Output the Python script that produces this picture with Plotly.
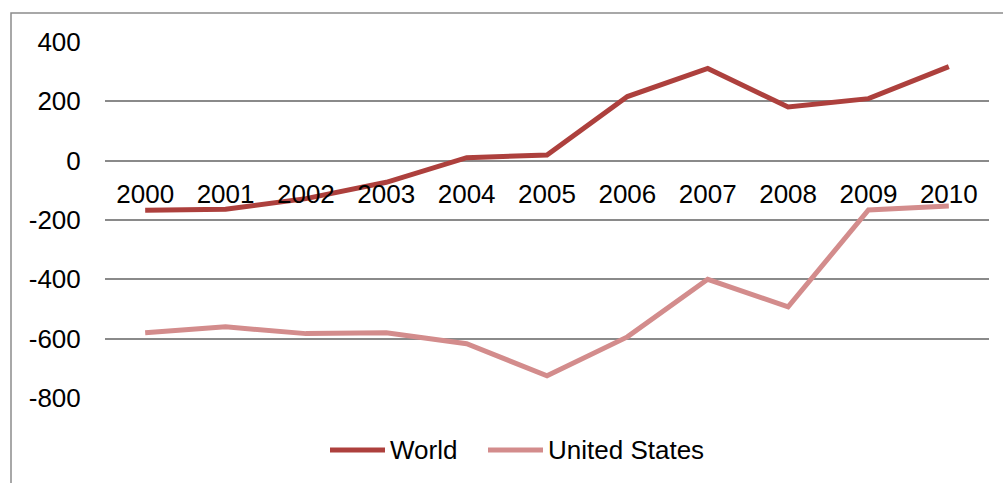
import plotly.graph_objects as go

years = [str(y) for y in range(2000, 2011)]
world = [-167, -164, -128, -73, 10, 19, 216, 311, 181, 209, 317]
united_states = [-580, -560, -583, -580, -617, -725, -594, -400, -493, -166, -153]
y_ticks = [400, 200, 0, -200, -400, -600, -800]
y_tick_labels = ["400", "200", "0", "-200", "-400", "-600", "-800"]

WORLD_COLOR = "#AD403D"
US_COLOR = "#D38C8C"
FONT = "Liberation Sans, Arial, sans-serif"
FONT_SIZE = 26

# plot-area geometry in pixels
W, H = 1003, 483
L, R, T, B = 105, 14, 42, 85
pw, ph = W - L - R, H - T - B


def px_x(x):
    return (x - L) / pw


def px_y(y):
    return (H - B - y) / ph


series = [("World", world, WORLD_COLOR), ("United States", united_states, US_COLOR)]

fig = go.Figure()
for name, values, color in series:
    fig.add_trace(go.Scatter(x=years, y=values, name=name, mode="lines",
                             line=dict(color=color, width=5)))

# outer chart border (top and left edges visible)
fig.add_shape(type="rect", xref="paper", yref="paper",
              x0=px_x(11), x1=px_x(W + 10), y0=px_y(H + 10), y1=px_y(13),
              line=dict(color="#8C8C8C", width=1.5), fillcolor="rgba(0,0,0,0)",
              layer="below")

# legend: line sample followed by the series name
legend_y = 450
for (name, _, color), x_start in zip(series, [330, 488]):
    fig.add_shape(type="line", xref="paper", yref="paper",
                  x0=px_x(x_start), x1=px_x(x_start + 55),
                  y0=px_y(legend_y), y1=px_y(legend_y),
                  line=dict(color=color, width=5))
    fig.add_annotation(xref="paper", yref="paper", x=px_x(x_start + 58), y=px_y(legend_y),
                       text=name, showarrow=False, xanchor="left", yanchor="middle",
                       font=dict(family=FONT, size=FONT_SIZE, color="black"))

fig.update_layout(
    width=W, height=H,
    margin=dict(l=L, r=R, t=T, b=B),
    paper_bgcolor="white", plot_bgcolor="white",
    font=dict(family=FONT, size=FONT_SIZE, color="black"),
    showlegend=False,
    xaxis=dict(type="category", anchor="free", position=2 / 3,
               showgrid=False, showline=False, zeroline=False,
               ticks="outside", ticklen=10, tickcolor="rgba(0,0,0,0)",
               range=[-0.5, 10.5], tickfont=dict(size=FONT_SIZE)),
    yaxis=dict(range=[-800, 400], tickvals=y_ticks, ticktext=y_tick_labels,
               showgrid=True, gridcolor="#8A8A8A", gridwidth=1.5,
               zeroline=False, showline=False,
               ticks="outside", ticklen=18, tickcolor="rgba(0,0,0,0)",
               tickfont=dict(size=FONT_SIZE)),
)

fig.write_html("out.html")
